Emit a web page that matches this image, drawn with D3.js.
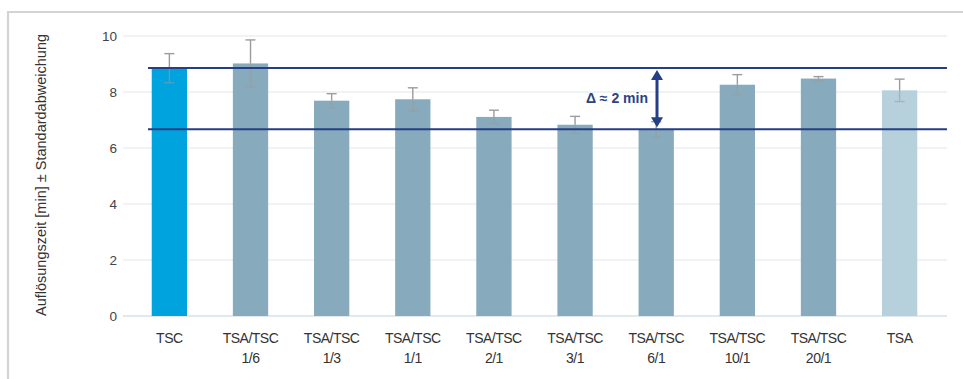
<!DOCTYPE html>
<html>
<head>
<meta charset="utf-8">
<script src="https://cdn.jsdelivr.net/npm/d3@7/dist/d3.min.js"></script>
<style>
  html, body { margin: 0; padding: 0; background: #fff; }
  svg { display: block; font-family: "Liberation Sans", Arial, sans-serif; }
</style>
</head>
<body>
<svg id="chart" width="963" height="379"></svg>
<script>
// Auflösungszeit je Mischungsverhältnis TSA/TSC
const categories = ["TSC", "TSA/TSC 1/6", "TSA/TSC 1/3", "TSA/TSC 1/1", "TSA/TSC 2/1",
                    "TSA/TSC 3/1", "TSA/TSC 6/1", "TSA/TSC 10/1", "TSA/TSC 20/1", "TSA"];
const meanValues = [8.85, 9.02, 7.69, 7.74, 7.11, 6.83, 6.66, 8.26, 8.48, 8.06];
const sdValues   = [0.52, 0.84, 0.25, 0.41, 0.24, 0.30, 0.28, 0.36, 0.07, 0.40];
const yTicks = [0, 2, 4, 6, 8, 10];
const referenceLevels = [8.86, 6.67];   // höchster und niedrigster Wert
const deltaLabel = "Δ ≈ 2 min";
const yTitle = "Auflösungszeit [min] ± Standardabweichung";

const barColors = categories.map((c, i) =>
  i === 0 ? "#00a3de" : (i === categories.length - 1 ? "#b6d1dc" : "#87aabc"));

const svg = d3.select("#chart");

// Rahmen (oben und links)
svg.append("path")
  .attr("d", "M8,379 V12 H963")
  .attr("fill", "none").attr("stroke", "#d3d3d3").attr("stroke-width", 2.2);

const x = d3.scaleBand().domain(categories).range([129, 940]).paddingInner(0.565).paddingOuter(0.28);
const y = d3.scaleLinear().domain([0, 10]).range([316, 36]);

// Gitterlinien
svg.append("g").selectAll("line").data(yTicks).join("line")
  .attr("x1", 123).attr("x2", 947)
  .attr("y1", d => y(d)).attr("y2", d => y(d))
  .attr("stroke", d => d === 0 ? "#d6e2e8" : "#e2e8eb").attr("stroke-width", d => d === 0 ? 1.6 : 1.2);

// Y-Achse
const yAxis = svg.append("g").attr("transform", "translate(117,0)")
  .call(d3.axisLeft(y).tickValues(yTicks).tickSize(0).tickPadding(0));
yAxis.select(".domain").remove();
yAxis.selectAll("text").attr("font-size", 13.5).attr("fill", "#444")
  .attr("font-family", "Liberation Sans, Arial, sans-serif").attr("dy", "0.34em");

svg.append("text")
  .attr("transform", `translate(46,175) rotate(-90)`)
  .attr("text-anchor", "middle").attr("font-size", 14.5).attr("fill", "#333")
  .text(yTitle);

// Balken
svg.append("g").selectAll("rect").data(categories).join("rect")
  .attr("x", d => x(d)).attr("width", x.bandwidth())
  .attr("y", (d, i) => y(meanValues[i]))
  .attr("height", (d, i) => y(0) - y(meanValues[i]))
  .attr("fill", (d, i) => barColors[i]);

// Fehlerbalken
const err = svg.append("g").attr("stroke", "#9c9c9c").attr("stroke-width", 1.4);
categories.forEach((c, i) => {
  const cx = x(c) + x.bandwidth() / 2;
  const top = y(meanValues[i] + sdValues[i]);
  const mid = y(meanValues[i]);
  const bot = y(meanValues[i] - sdValues[i]);
  err.append("line").attr("x1", cx).attr("x2", cx).attr("y1", top).attr("y2", mid);
  err.append("line").attr("x1", cx - 5).attr("x2", cx + 5).attr("y1", top).attr("y2", top);
  const inner = err.append("g").attr("opacity", 0.55);
  inner.append("line").attr("x1", cx).attr("x2", cx).attr("y1", mid).attr("y2", bot);
  inner.append("line").attr("x1", cx - 5).attr("x2", cx + 5).attr("y1", bot).attr("y2", bot);
});

// Referenzlinien
svg.append("g").selectAll("line").data(referenceLevels).join("line")
  .attr("x1", 148).attr("x2", 947)
  .attr("y1", d => y(d)).attr("y2", d => y(d))
  .attr("stroke", "#243f86").attr("stroke-width", 2);

// Differenzpfeil
const ax = 657;
const yTop = y(referenceLevels[0]) + 2, yBot = y(referenceLevels[1]) - 2;
svg.append("line").attr("x1", ax).attr("x2", ax).attr("y1", yTop + 8).attr("y2", yBot - 8)
  .attr("stroke", "#243f86").attr("stroke-width", 3);
svg.append("path")
  .attr("d", `M${ax},${yTop} L${ax - 6},${yTop + 10} L${ax + 6},${yTop + 10} Z`)
  .attr("fill", "#243f86");
svg.append("path")
  .attr("d", `M${ax},${yBot} L${ax - 6},${yBot - 10} L${ax + 6},${yBot - 10} Z`)
  .attr("fill", "#243f86");
svg.append("text")
  .attr("x", 648).attr("y", (y(referenceLevels[0]) + y(referenceLevels[1])) / 2)
  .attr("dy", "0.35em").attr("text-anchor", "end")
  .attr("font-size", 14).attr("font-weight", "bold").attr("fill", "#2a4384")
  .text(deltaLabel);

// Kategorienbeschriftung
const xl = svg.append("g");
categories.forEach(c => {
  const cx = x(c) + x.bandwidth() / 2;
  const parts = c.split(" ");
  const t = xl.append("text").attr("text-anchor", "middle")
    .attr("font-size", 14).attr("fill", "#333").attr("letter-spacing", "-0.5");
  parts.forEach((p, k) => {
    t.append("tspan").attr("x", cx).attr("y", 343 + k * 20).text(p);
  });
});
</script>
</body>
</html>
